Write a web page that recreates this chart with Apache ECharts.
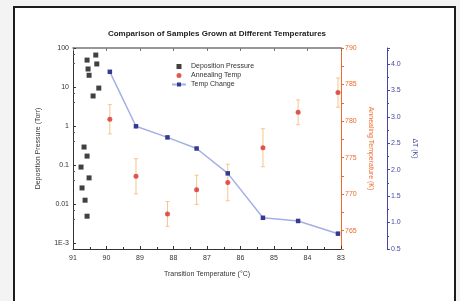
<!DOCTYPE html>
<html>
<head>
<meta charset="utf-8">
<script src="https://cdn.jsdelivr.net/npm/echarts@6/dist/echarts.min.js"></script>
<style>
  html, body { margin: 0; padding: 0; background: #f3f3f3; }
  #wrap { position: relative; width: 460px; height: 301px; overflow: hidden; }
  #frame { position: absolute; left: 13px; top: 6px; width: 439px; height: 320px;
           border: 2px solid #1c1c1c; background: #fff; }
  #chart { position: absolute; left: 0; top: 0; width: 460px; height: 301px; }
</style>
</head>
<body>
<div id="wrap">
  <div id="frame"></div>
  <div id="chart"></div>
</div>
<script>
  // Deposition Pressure (Torr), black squares
  var depX = [90.58, 90.32, 90.29, 90.55, 90.52, 90.23, 90.40, 90.67, 90.58, 90.76, 90.52, 90.73, 90.64, 90.58];
  var depY = [49, 66, 39, 29, 20, 9.4, 5.9, 0.29, 0.17, 0.089, 0.047, 0.026, 0.0126, 0.0049];

  // Annealing Temp (K), red points with error bars
  var tempX = [89.9, 89.12, 88.18, 87.31, 86.38, 85.33, 84.28, 83.09];
  var annealY = [780.25, 772.45, 767.3, 770.6, 771.6, 776.35, 781.2, 783.9];
  var annealErr = [2.0, 2.4, 1.7, 2.0, 2.5, 2.6, 1.7, 2.0];

  // Temp Change ΔT (K), blue line
  var changeY = [3.85, 2.82, 2.61, 2.40, 1.93, 1.09, 1.03, 0.79];

  var FONT = 'Liberation Sans';
  var orange = '#f06a2c';
  var navy = '#454aa0';

  function pairs(xs, ys) {
    return xs.map(function (x, i) { return [x, ys[i]]; });
  }

  var chart = echarts.init(document.getElementById('chart'), null, { renderer: 'canvas' });

  chart.setOption({
    animation: false,
    textStyle: { fontFamily: FONT },
    title: {
      text: 'Comparison of Samples Grown at Different Temperatures',
      left: 212, top: 25, textAlign: 'center',
      textStyle: { fontSize: 8, fontWeight: 'bold', color: '#222', fontFamily: FONT }
    },
    legend: {
      left: 166, top: 58, orient: 'vertical', itemGap: 2,
      itemWidth: 14, itemHeight: 5,
      textStyle: { fontSize: 7, color: '#333', fontFamily: FONT },
      data: [
        { name: 'Deposition Pressure', icon: 'path://M0,0L10,0L10,10L0,10Z' },
        'Annealing Temp',
        'Temp Change'
      ]
    },
    grid: { left: 73, top: 48, width: 268, height: 201 },
    xAxis: [{
      type: 'value', min: 83, max: 91, interval: 1, inverse: true, position: 'bottom',
      name: 'Transition Temperature (°C)', nameLocation: 'middle', nameGap: 22,
      nameTextStyle: { fontSize: 7, color: '#333' },
      axisLine: { lineStyle: { color: '#333', width: 1 } },
      axisTick: { inside: true, length: 3, lineStyle: { color: '#333' } },
      minorTick: { show: true, splitNumber: 2, length: 2, lineStyle: { color: '#333' } },
      axisLabel: { fontSize: 7, color: '#333', margin: 6 },
      splitLine: { show: false }
    }, {
      type: 'value', min: 83, max: 91, interval: 1, inverse: true, position: 'top',
      axisLine: { lineStyle: { color: '#777', width: 1.5 } },
      axisTick: { inside: true, length: 3, lineStyle: { color: '#777' } },
      axisLabel: { show: false },
      splitLine: { show: false }
    }],
    yAxis: [{
      type: 'log', logBase: 10, min: 0.000708, max: 100, position: 'left',
      name: 'Deposition Pressure (Torr)', nameLocation: 'middle', nameGap: 31,
      nameTextStyle: { fontSize: 7, color: '#333' },
      axisLine: { show: true, lineStyle: { color: '#333' } },
      axisTick: { inside: true, length: 3, lineStyle: { color: '#333' } },
      minorTick: { show: true, splitNumber: 3, length: 2, lineStyle: { color: '#555' } },
      axisLabel: {
        fontSize: 7, color: '#333', margin: 4,
        formatter: function (v) {
          if (v < 0.00099) return '';
          if (Math.abs(v - 0.001) < 1e-7) return '1E-3';
          if (v >= 1) return String(Math.round(v));
          return String(+v.toPrecision(1));
        }
      },
      splitLine: { show: false }
    }, {
      type: 'value', min: 762.5, max: 790, interval: 2.5, position: 'right',
      name: 'Annealing Temperature (K)', nameLocation: 'middle', nameGap: 26, nameRotate: -90,
      nameTextStyle: { fontSize: 7, color: orange },
      axisLine: { show: true, lineStyle: { color: orange, width: 1 } },
      axisTick: { show: true, length: 3, lineStyle: { color: orange } },
      axisLabel: {
        fontSize: 7, color: orange, margin: 4,
        formatter: function (v) { return (Math.abs(v % 5) < 0.01) ? String(v) : ''; }
      },
      splitLine: { show: false }
    }, {
      type: 'value', min: 0.5, max: 4.3, interval: 0.5, position: 'right', offset: 46,
      name: 'ΔT (K)', nameLocation: 'middle', nameGap: 22, nameRotate: -90,
      nameTextStyle: { fontSize: 7, color: navy },
      axisLine: { show: true, lineStyle: { color: navy, width: 1 } },
      axisTick: { show: true, length: 3, lineStyle: { color: navy } },
      minorTick: { show: true, splitNumber: 2, length: 2, lineStyle: { color: navy } },
      axisLabel: {
        fontSize: 7, color: navy, margin: 4,
        formatter: function (v) { return v > 4.05 ? '' : v.toFixed(1); }
      },
      splitLine: { show: false }
    }],
    series: [{
      name: 'Deposition Pressure', type: 'scatter', xAxisIndex: 0, yAxisIndex: 0,
      symbol: 'rect', symbolSize: 5, symbolKeepAspect: true,
      itemStyle: { color: '#111' },
      data: pairs(depX, depY)
    }, {
      name: 'Annealing Temp err', type: 'custom', xAxisIndex: 0, yAxisIndex: 1,
      renderItem: function (params, api) {
        var x = api.value(0), y = api.value(1), e = api.value(2);
        var top = api.coord([x, y + e]);
        var bot = api.coord([x, y - e]);
        var st = { stroke: '#f6c48e', lineWidth: 1 };
        return {
          type: 'group',
          children: [
            { type: 'line', shape: { x1: top[0], y1: top[1], x2: bot[0], y2: bot[1] }, style: st },
            { type: 'line', shape: { x1: top[0] - 2, y1: top[1], x2: top[0] + 2, y2: top[1] }, style: st },
            { type: 'line', shape: { x1: bot[0] - 2, y1: bot[1], x2: bot[0] + 2, y2: bot[1] }, style: st }
          ]
        };
      },
      encode: { x: 0, y: 1 },
      data: tempX.map(function (x, i) { return [x, annealY[i], annealErr[i]]; })
    }, {
      name: 'Annealing Temp', type: 'scatter', xAxisIndex: 0, yAxisIndex: 1,
      symbol: 'circle', symbolSize: 5, z: 3,
      itemStyle: { color: '#d9302a' },
      data: pairs(tempX, annealY)
    }, {
      name: 'Temp Change', type: 'line', xAxisIndex: 0, yAxisIndex: 2,
      symbol: 'rect', symbolSize: 4.5, showAllSymbol: true,
      lineStyle: { color: '#a3b0e6', width: 1.5 },
      itemStyle: { color: '#343a8c' },
      z: 4,
      data: pairs(tempX, changeY)
    }]
  });
</script>
</body>
</html>
